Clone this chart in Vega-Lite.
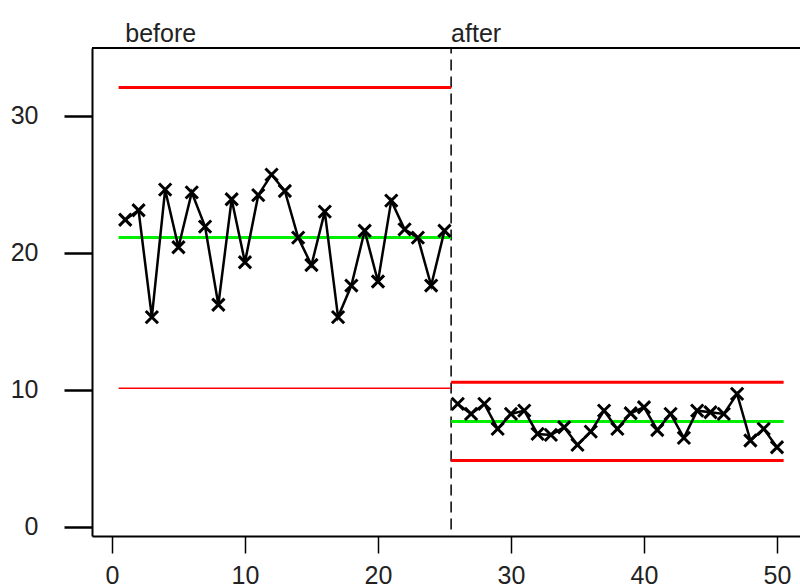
{
  "$schema": "https://vega.github.io/schema/vega-lite/v6.json",
  "width": 708,
  "height": 488,
  "autosize": {"type": "none"},
  "padding": {"left": 92, "top": 48, "right": 0, "bottom": 52},
  "background": "white",
  "config": {
    "view": {"stroke": null},
    "font": "Liberation Sans",
    "axis": {
      "grid": false,
      "domainColor": "black",
      "domainWidth": 2,
      "tickColor": "black",
      "labelColor": "#222222",
      "labelFontSize": 25,
      "labelFont": "Liberation Sans"
    },
    "axisX": {"tickSize": 17, "tickWidth": 1.5, "labelPadding": 10},
    "axisY": {"tickSize": 28, "tickWidth": 2.5, "labelPadding": 26}
  },
  "datasets": {
    "points": [
      {"i": 1, "value": 22.4, "period": "before"},
      {"i": 2, "value": 23.1, "period": "before"},
      {"i": 3, "value": 15.3, "period": "before"},
      {"i": 4, "value": 24.6, "period": "before"},
      {"i": 5, "value": 20.4, "period": "before"},
      {"i": 6, "value": 24.4, "period": "before"},
      {"i": 7, "value": 21.9, "period": "before"},
      {"i": 8, "value": 16.2, "period": "before"},
      {"i": 9, "value": 23.9, "period": "before"},
      {"i": 10, "value": 19.3, "period": "before"},
      {"i": 11, "value": 24.2, "period": "before"},
      {"i": 12, "value": 25.7, "period": "before"},
      {"i": 13, "value": 24.5, "period": "before"},
      {"i": 14, "value": 21.1, "period": "before"},
      {"i": 15, "value": 19.1, "period": "before"},
      {"i": 16, "value": 23.0, "period": "before"},
      {"i": 17, "value": 15.3, "period": "before"},
      {"i": 18, "value": 17.6, "period": "before"},
      {"i": 19, "value": 21.6, "period": "before"},
      {"i": 20, "value": 17.9, "period": "before"},
      {"i": 21, "value": 23.8, "period": "before"},
      {"i": 22, "value": 21.7, "period": "before"},
      {"i": 23, "value": 21.1, "period": "before"},
      {"i": 24, "value": 17.6, "period": "before"},
      {"i": 25, "value": 21.6, "period": "before"},
      {"i": 26, "value": 8.96, "period": "after"},
      {"i": 27, "value": 8.23, "period": "after"},
      {"i": 28, "value": 8.96, "period": "after"},
      {"i": 29, "value": 7.14, "period": "after"},
      {"i": 30, "value": 8.23, "period": "after"},
      {"i": 31, "value": 8.47, "period": "after"},
      {"i": 32, "value": 6.77, "period": "after"},
      {"i": 33, "value": 6.7, "period": "after"},
      {"i": 34, "value": 7.26, "period": "after"},
      {"i": 35, "value": 5.97, "period": "after"},
      {"i": 36, "value": 6.94, "period": "after"},
      {"i": 37, "value": 8.47, "period": "after"},
      {"i": 38, "value": 7.14, "period": "after"},
      {"i": 39, "value": 8.28, "period": "after"},
      {"i": 40, "value": 8.72, "period": "after"},
      {"i": 41, "value": 7.06, "period": "after"},
      {"i": 42, "value": 8.23, "period": "after"},
      {"i": 43, "value": 6.48, "period": "after"},
      {"i": 44, "value": 8.47, "period": "after"},
      {"i": 45, "value": 8.35, "period": "after"},
      {"i": 46, "value": 8.23, "period": "after"},
      {"i": 47, "value": 9.69, "period": "after"},
      {"i": 48, "value": 6.29, "period": "after"},
      {"i": 49, "value": 7.14, "period": "after"},
      {"i": 50, "value": 5.8, "period": "after"}
    ],
    "limits": [
      {"period": "before", "start": 0.5, "end": 25.5, "cl": 21.1, "ucl": 32.05, "lcl": 10.1},
      {"period": "after", "start": 25.5, "end": 50.5, "cl": 7.67, "ucl": 10.54, "lcl": 4.83}
    ],
    "labels": [
      {"pos": 1, "level": 35.4, "text": "before"},
      {"pos": 25.5, "level": 35.4, "text": "after"}
    ],
    "split": [{"pos": 25.5, "low": -0.2, "high": 34.94}],
    "frame": [{"top": 34.94}]
  },
  "layer": [
    {
      "data": {"name": "frame"},
      "mark": {"type": "rule", "color": "black", "strokeWidth": 2},
      "encoding": {
        "y": {"field": "top", "type": "quantitative", "scale": {"domain": [-0.68, 34.94], "nice": false, "zero": false}, "axis": {"values": [0, 10, 20, 30], "title": null}}
      }
    },
    {
      "data": {"name": "split"},
      "mark": {"type": "rule", "color": "black", "strokeWidth": 1.5, "strokeDash": [11, 6]},
      "encoding": {
        "x": {"field": "pos", "type": "quantitative", "scale": {"domain": [-1.5, 51.73], "nice": false, "zero": false}, "axis": {"values": [0, 10, 20, 30, 40, 50], "title": null}},
        "y": {"field": "low", "type": "quantitative", "axis": {"values": [0, 10, 20, 30], "title": null}},
        "y2": {"field": "high"}
      }
    },
    {
      "data": {"name": "limits"},
      "mark": {"type": "rule", "color": "#ff0000", "strokeWidth": 3},
      "encoding": {
        "x": {"field": "start", "type": "quantitative", "axis": {"values": [0, 10, 20, 30, 40, 50], "title": null}},
        "x2": {"field": "end"},
        "y": {"field": "ucl", "type": "quantitative", "axis": {"values": [0, 10, 20, 30], "title": null}}
      }
    },
    {
      "data": {"name": "limits"},
      "mark": {"type": "rule", "color": "#ff0000"},
      "encoding": {
        "x": {"field": "start", "type": "quantitative", "axis": {"values": [0, 10, 20, 30, 40, 50], "title": null}},
        "x2": {"field": "end"},
        "y": {"field": "lcl", "type": "quantitative", "axis": {"values": [0, 10, 20, 30], "title": null}},
        "strokeWidth": {"condition": {"test": "datum.period === 'before'", "value": 1.5}, "value": 3}
      }
    },
    {
      "data": {"name": "limits"},
      "mark": {"type": "rule", "color": "#00ee00", "strokeWidth": 3},
      "encoding": {
        "x": {"field": "start", "type": "quantitative", "axis": {"values": [0, 10, 20, 30, 40, 50], "title": null}},
        "x2": {"field": "end"},
        "y": {"field": "cl", "type": "quantitative", "axis": {"values": [0, 10, 20, 30], "title": null}}
      }
    },
    {
      "data": {"name": "points"},
      "mark": {"type": "line", "color": "black", "strokeWidth": 2.5},
      "encoding": {
        "x": {"field": "i", "type": "quantitative", "axis": {"values": [0, 10, 20, 30, 40, 50], "title": null}},
        "y": {"field": "value", "type": "quantitative", "axis": {"values": [0, 10, 20, 30], "title": null}},
        "detail": {"field": "period"}
      }
    },
    {
      "data": {"name": "points"},
      "mark": {"type": "point", "shape": "M-1,-1L1,1M1,-1L-1,1", "filled": false, "stroke": "black", "strokeWidth": 3, "size": 150, "opacity": 1},
      "encoding": {
        "x": {"field": "i", "type": "quantitative", "axis": {"values": [0, 10, 20, 30, 40, 50], "title": null}},
        "y": {"field": "value", "type": "quantitative", "axis": {"values": [0, 10, 20, 30], "title": null}}
      }
    },
    {
      "data": {"name": "labels"},
      "mark": {"type": "text", "align": "left", "baseline": "alphabetic", "fontSize": 25, "color": "#222222", "font": "Liberation Sans"},
      "encoding": {
        "x": {"field": "pos", "type": "quantitative", "axis": {"values": [0, 10, 20, 30, 40, 50], "title": null}},
        "y": {"field": "level", "type": "quantitative", "axis": {"values": [0, 10, 20, 30], "title": null}},
        "text": {"field": "text"}
      }
    }
  ]
}
